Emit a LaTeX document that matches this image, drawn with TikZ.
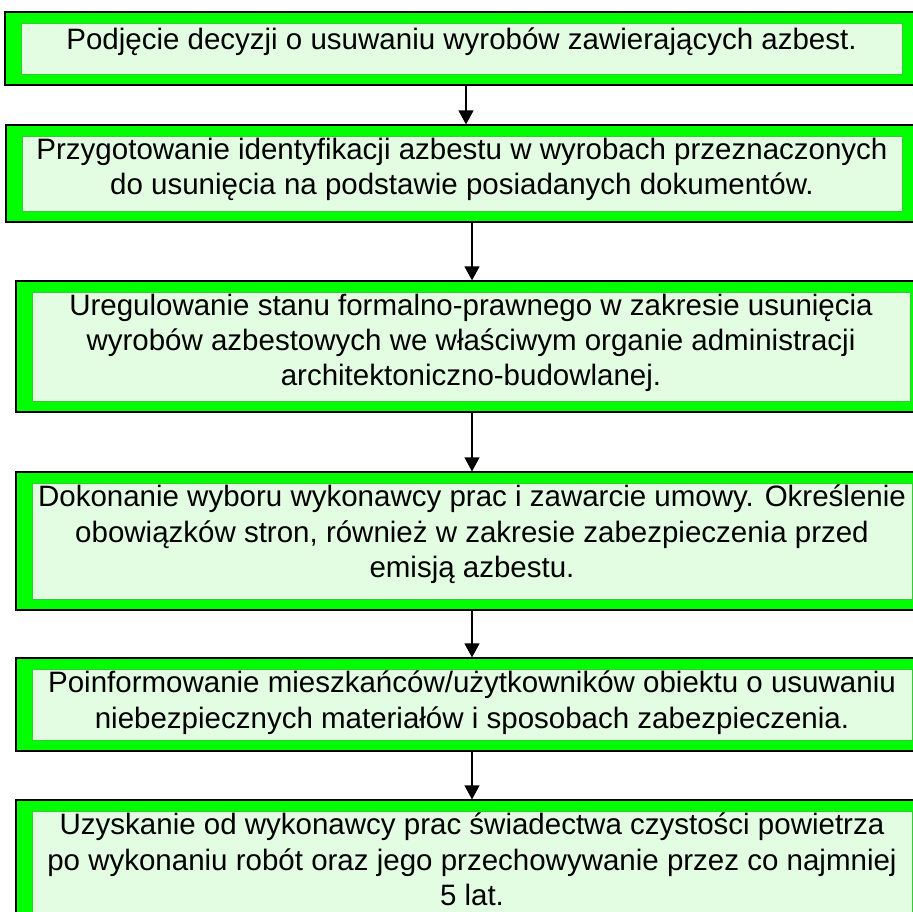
\documentclass[tikz,border=0pt]{standalone}
\usepackage{fontspec}
\setmainfont{Liberation Sans}
\usetikzlibrary{arrows.meta,positioning}
\definecolor{bandgreen}{HTML}{00FF00}
\definecolor{panegreen}{HTML}{E3FDE3}
\definecolor{paneedge}{HTML}{33CC33}

\begin{document}
\begin{tikzpicture}[
    x=1pt, y=-1pt,
    band/.style={rectangle, draw=black, line width=1.2pt, fill=bandgreen, inner sep=0pt,
        path picture={\draw[paneedge, line width=0.6pt, fill=panegreen]
            ([shift={(16pt,-11pt)}]path picture bounding box.north west) rectangle
            ([shift={(-12pt,11pt)}]path picture bounding box.south east);}},
    txt/.style={inner sep=0pt, align=center, font=\fontsize{29.5pt}{35.3pt}\selectfont,
        execute at begin node=\strut},
    flow/.style={-{Triangle[width=15pt,length=14pt]}, line width=1.3pt}
]
    \useasboundingbox (0,0) rectangle (913,912);
    \clip (0,0) rectangle (913,912);

    % green boxes
    \node[band, minimum width=909pt, minimum height=73pt] (s1) at (459.5,48.5) {};
    \node[band, minimum width=908pt, minimum height=97pt] (s2) at (460,173.5) {};
    \node[band, minimum width=906pt, minimum height=131pt] (s3) at (469,346.5) {};
    \node[band, minimum width=908pt, minimum height=138pt] (s4) at (470,541) {};
    \node[band, minimum width=908pt, minimum height=93pt] (s5) at (470,704.5) {};
    \node[band, minimum width=908pt, minimum height=135pt] (s6) at (470,867.5) {};

    % texts
    \node[txt, below=13.4pt of s1.north, xshift=2pt] (t1) {Podjęcie decyzji o usuwaniu wyrobów zawierających azbest.};
    \node[txt, below=13.4pt of s2.north, xshift=2pt] (t2) {Przygotowanie identyfikacji azbestu w wyrobach przeznaczonych\\do usunięcia na podstawie posiadanych dokumentów.};
    \node[txt, below=13.4pt of s3.north, xshift=2pt] (t3) {Uregulowanie stanu formalno-prawnego w zakresie usunięcia\\wyrobów azbestowych we właściwym organie administracji\\architektoniczno-budowlanej.};
    \node[txt, below=13.4pt of s4.north, xshift=2pt] (t4) {Dokonanie wyboru wykonawcy prac i zawarcie umowy. Określenie\\obowiązków stron, również w zakresie zabezpieczenia przed\\emisją azbestu.};
    \node[txt, below=13.4pt of s5.north, xshift=2pt] (t5) {Poinformowanie mieszkańców/użytkowników obiektu o usuwaniu\\niebezpiecznych materiałów i sposobach zabezpieczenia.};
    \node[txt, below=13.4pt of s6.north, xshift=2pt] (t6) {Uzyskanie od wykonawcy prac świadectwa czystości powietrza\\po wykonaniu robót oraz jego przechowywanie przez co najmniej\\5 lat.};

    % arrows
    \draw[flow] ([xshift=6.5pt]s1.south) -- ([xshift=6.5pt]s1.south |- s2.north);
    \draw[flow] ([xshift=12pt]s2.south) -- ([xshift=12pt]s2.south |- s3.north);
    \draw[flow] ([xshift=3pt]s3.south) -- ([xshift=3pt]s3.south |- s4.north);
    \draw[flow] ([xshift=2pt]s4.south) -- ([xshift=2pt]s4.south |- s5.north);
    \draw[flow] ([xshift=2pt]s5.south) -- ([xshift=2pt]s5.south |- s6.north);
\end{tikzpicture}
\end{document}
